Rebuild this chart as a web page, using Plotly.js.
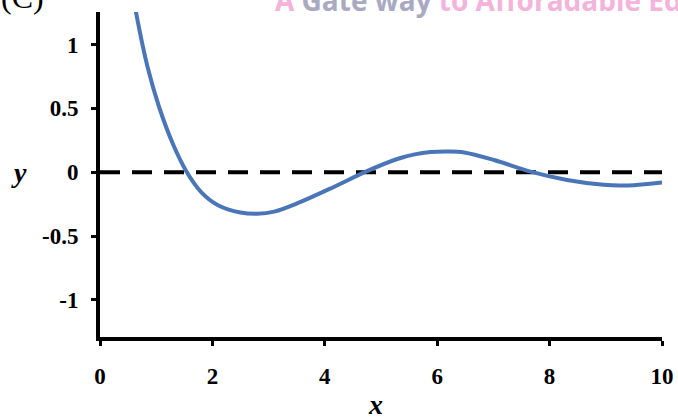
<!DOCTYPE html>
<html>
<head>
<meta charset="utf-8">
<script src="https://cdn.plot.ly/plotly-3.0.1.min.js"></script>
<style>html,body{margin:0;padding:0;background:#fff;}#chart{width:678px;height:419px;}</style>
</head>
<body>
<div id="chart"></div>
<script>
// Curve
const curveX = [0.60, 0.64, 0.85, 1.05, 1.30, 1.53, 1.80, 2.10, 2.50, 2.80, 3.10, 3.57, 4.17, 4.73, 5.29, 5.60, 5.88, 6.20, 6.48, 7.01, 7.66, 8.31, 8.96, 9.25, 9.50, 10.0];
const curveY = [1.36, 1.254, 0.818, 0.513, 0.219, 0.012, -0.155, -0.258, -0.315, -0.325, -0.308, -0.232, -0.113, 0.005, 0.104, 0.14, 0.158, 0.163, 0.155, 0.096, 0.005, -0.06, -0.098, -0.104, -0.101, -0.08];
// Zero reference line
const refX = [0, 10];
const refY = [0, 0];
// Tick labels
const xTickVals = [0, 2, 4, 6, 8, 10];
const xTickText = ["0", "2", "4", "6", "8", "10"];
const yTickVals = [1, 0.5, 0, -0.5, -1];
const yTickText = ["1", "0.5", "0", "-0.5", "-1"];

const tickFont = {family: "Liberation Serif", size: 23, color: "#000", weight: "bold"};

const data = [
  {x: refX, y: refY, mode: "lines", line: {color: "#000", width: 4, dash: "20px,12px"}, hoverinfo: "skip"},
  {x: curveX, y: curveY, mode: "lines", line: {color: "#4a76b8", width: 4, shape: "spline", smoothing: 1}, hoverinfo: "skip"}
];

const layout = {
  width: 678, height: 419,
  margin: {l: 100, r: 16, t: 12, b: 82, pad: 0},
  paper_bgcolor: "#fff", plot_bgcolor: "#fff",
  showlegend: false,
  xaxis: {
    range: [0, 10], showgrid: false, zeroline: false,
    showline: true, linecolor: "#000", linewidth: 4,
    ticks: "outside", ticklen: 5, tickwidth: 3, tickcolor: "#000",
    tickvals: xTickVals, ticktext: xTickText, tickfont: tickFont,
    ticklabelstandoff: 10
  },
  yaxis: {
    range: [-1.29, 1.255], showgrid: false, zeroline: false,
    showline: true, linecolor: "#000", linewidth: 4,
    ticks: "outside", ticklen: 5, tickwidth: 3, tickcolor: "#000",
    tickvals: yTickVals, ticktext: yTickText, tickfont: tickFont,
    ticklabelstandoff: 8
  },
  annotations: [
    {text: "y", xref: "paper", yref: "y", x: -0.145, y: 0, xanchor: "center", yanchor: "middle", showarrow: false,
     font: {family: "Liberation Serif", size: 28, style: "italic", weight: "bold", color: "#000"}},
    {text: "x", xref: "x", yref: "paper", x: 4.9, y: -0.155, xanchor: "center", yanchor: "top", showarrow: false,
     font: {family: "Liberation Serif", size: 28, style: "italic", weight: "bold", color: "#000"}},
    {text: "(C)", xref: "paper", yref: "paper", x: -0.18, y: 0.985, xanchor: "left", yanchor: "bottom", showarrow: false,
     font: {family: "Liberation Serif", size: 32, color: "#000"}},
    {text: "<span style='color:#f3b3da'>A </span><span style='color:#a9aac2'>Gate way </span><span style='color:#f3b3da'>to Afforadable Education</span>",
     xref: "paper", yref: "paper", x: 0.308, y: 0.972, xanchor: "left", yanchor: "bottom", showarrow: false,
     font: {family: "Open Sans", size: 28, weight: "bold", color: "#f3b3da"}}
  ]
};

Plotly.newPlot("chart", data, layout, {staticPlot: true, displayModeBar: false});
</script>
</body>
</html>
